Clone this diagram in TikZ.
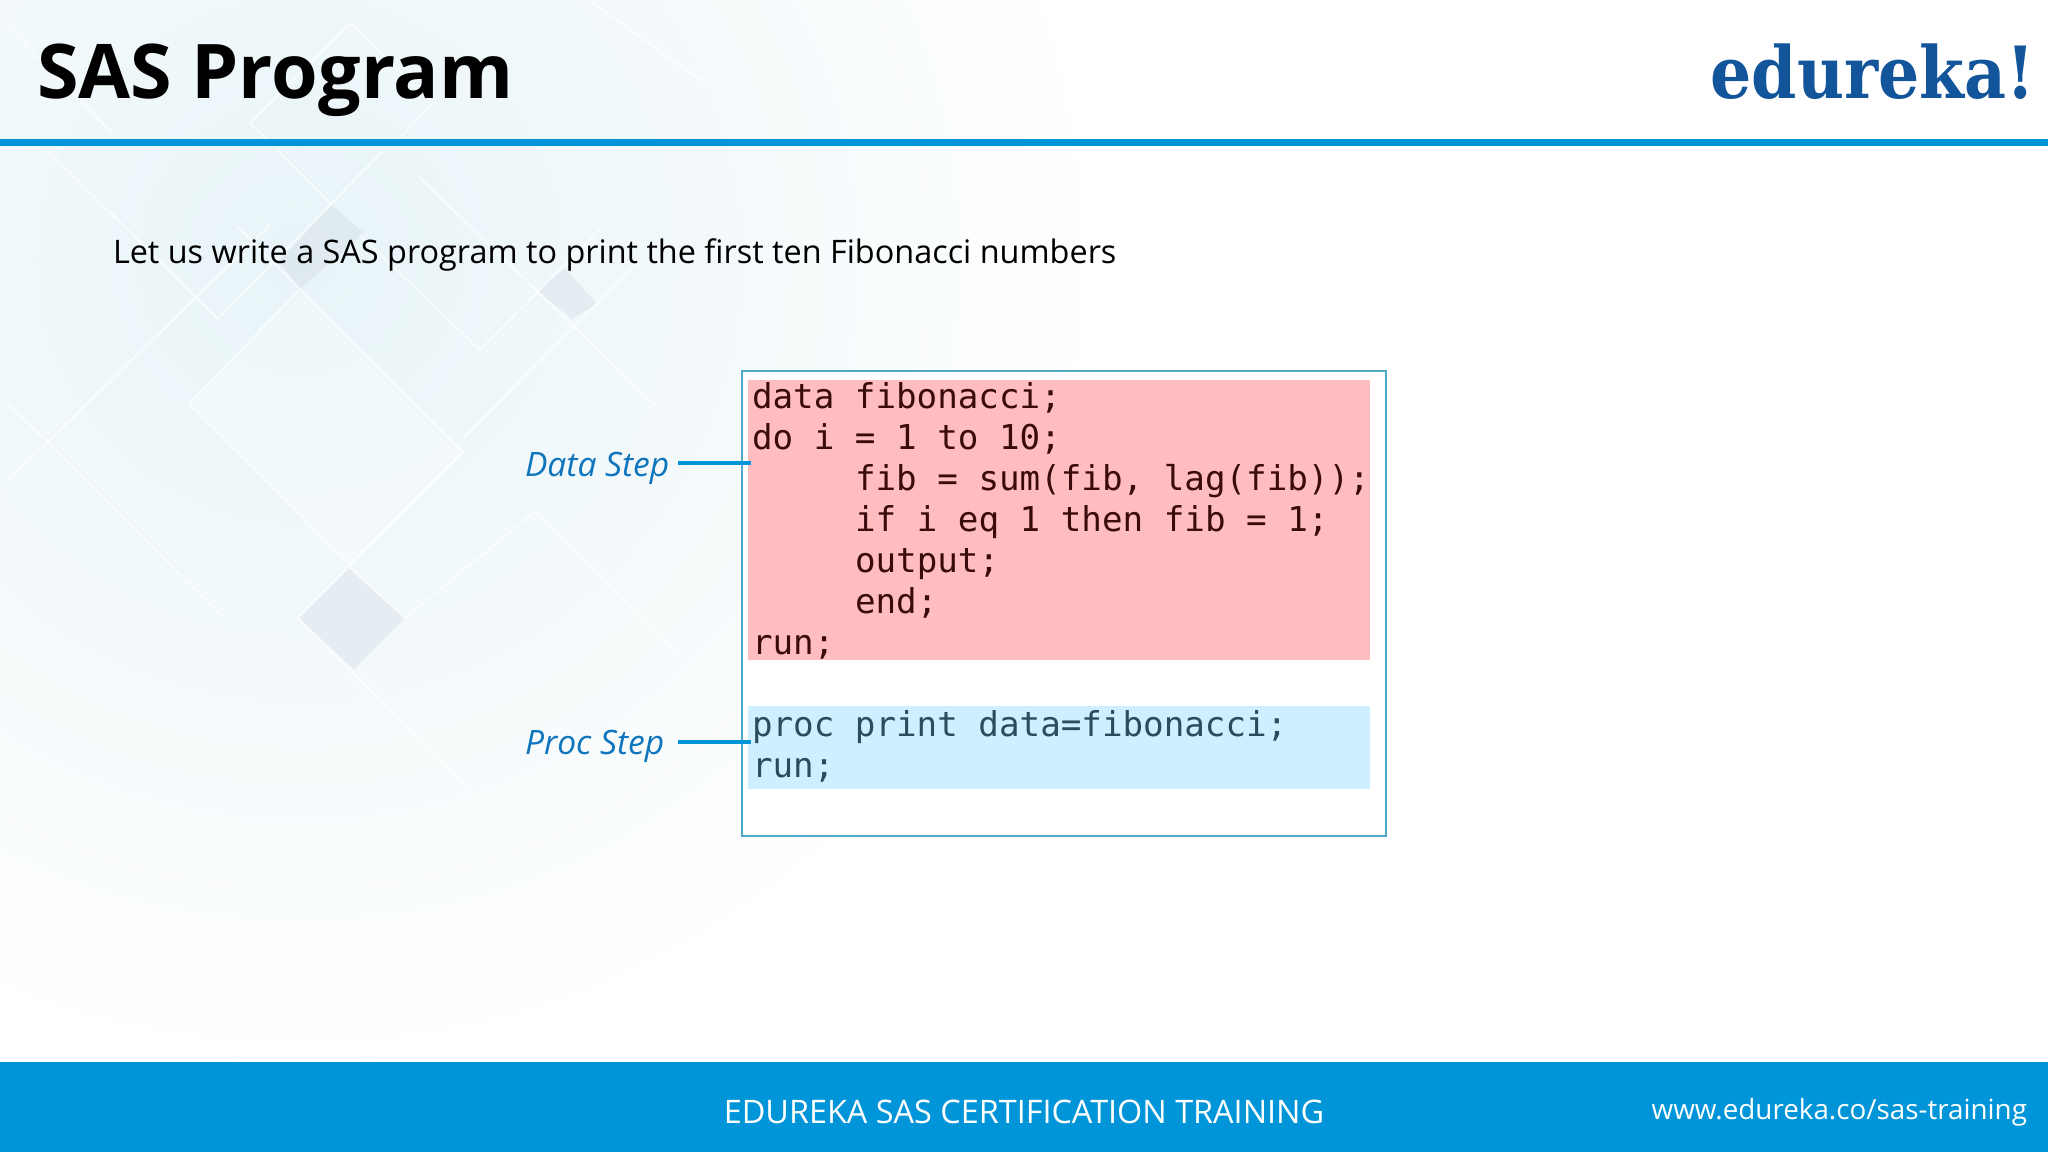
\documentclass[tikz,border=0pt]{standalone}
\usepackage{fontspec}
\setmainfont{Open Sans}
\setmonofont{DejaVu Sans Mono}
\newfontfamily\logofont{DejaVu Serif}
\usepackage{tikz}
\definecolor{barblue}{HTML}{0095D8}
\definecolor{labelblue}{HTML}{0F75BC}
\definecolor{logoblue}{HTML}{12559B}
\definecolor{washblue}{HTML}{E8F4F8}
\definecolor{greyblue}{HTML}{D3DDE6}
\definecolor{redfill}{HTML}{FFBDBF}
\definecolor{bluefill}{HTML}{CDEFFF}
\definecolor{redtext}{HTML}{3A0A0C}
\definecolor{bluetext}{HTML}{2C4B5C}
\definecolor{framecolor}{HTML}{4FA9C9}
\tikzset{
  every node/.style={inner sep=0pt, outer sep=0pt},
  codeline/.style={anchor=base west, font=\ttfamily\fontsize{17.1}{20}\selectfont},
  steplabel/.style={anchor=west, text=labelblue, font=\itshape\fontsize{16.8}{20}\selectfont},
  pointer/.style={draw=barblue, line width=2.3pt},
  sheen/.style={draw=white, line width=0.9pt, opacity=0.7},
  pane/.style={fill=white, opacity=0.25},
  patch/.style={fill=greyblue, opacity=0.4},
}
\begin{document}
\begin{tikzpicture}[x=0.5pt, y=-0.5pt]
  \useasboundingbox (0,0) rectangle (2048,1152);
  \fill[white] (0,0) rectangle (2048,1152);

  % background wash
  \begin{scope}
    \clip (0,0) rectangle (2048,1062);
    \shade[inner color=washblue, outer color=white] (300,260) circle (820);
    \fill[pane] (189,404) -- (300,289) -- (463,452) -- (349,564) -- cycle;
    \fill[patch] (349,567) -- (405,618) -- (354,669) -- (298,618) -- cycle;
    \fill[patch] (332,205) -- (364,233) -- (300,289) -- (279,261) -- cycle;
    \fill[patch] (565,268) -- (597,304) -- (572,319) -- (538,291) -- cycle;
    \draw[sheen] (189,404) -- (300,289) -- (463,452) -- (349,564) -- cycle;
    \foreach \ax/\ay/\bx/\by in {48/151/218/319, 218/319/383/151, 236/225/300/289, 276/149/332/205,
        419/177/660/410, 480/350/601/228, 480/350/360/235, 48/442/270/225, 48/442/224/618,
        298/618/463/452, 298/618/470/790, 349/567/405/618, 405/618/536/511, 536/511/680/655,
        7/403/48/442, 7/480/48/442, 464/437/640/260, 250/123/350/23, 350/23/433/103,
        250/123/270/143, 433/103/395/143, 9/27/112/133, 589/0/700/80} {
      \draw[sheen] (\ax,\ay) -- (\bx,\by);
    }
  \end{scope}

  % header and footer
  \fill[barblue] (0,139) rectangle (2048,146);
  \fill[barblue] (0,1062) rectangle (2048,1152);
  \node[anchor=base west, font=\bfseries\fontsize{37.7}{40}\selectfont] (title) at (37,98) {SAS Program};
  \node[anchor=base east, text=logoblue, font=\logofont\bfseries\fontsize{36}{40}\selectfont] (logo) at (2035,98) {\scalebox{0.9}[1]{edureka!}};
  \node[anchor=base west, font=\fontsize{16.2}{20}\selectfont] (intro) at (113,263) {Let us write a SAS program to print the first ten Fibonacci numbers};
  \node[anchor=center, text=white, font=\fontsize{16.2}{20}\selectfont] (course) at (1024,1112) {EDUREKA SAS CERTIFICATION TRAINING};
  \node[anchor=east, text=white, font=\fontsize{13.9}{18}\selectfont] (site) at (2027,1112) {www.edureka.co/sas-training};

  % code boxes
  \node[draw=framecolor, fill=white, line width=0.6pt, minimum width=322pt, minimum height=232.5pt, anchor=north west] (frame) at (742,371) {};
  \node[fill=redfill, minimum width=311pt, minimum height=140pt, anchor=north west] (datablock) at (748,380) {};
  \node[fill=bluefill, minimum width=311pt, minimum height=41.5pt, anchor=north west] (procblock) at (748,706) {};

  % code lines
  \foreach \i/\xpos/\ypos/\line in {1/752/408/{data fibonacci;}, 2/752/449/{do i = 1 to 10;}, 3/855/490/{fib = sum(fib, lag(fib));}, 4/855/531/{if i eq 1 then fib = 1;}, 5/855/572/{output;}, 6/855/613/{end;}, 7/752/654/{run;}} {
    \node[codeline, text=redtext] (code\i) at (\xpos,\ypos) {\line};
  }
  \node[codeline, text=bluetext] (proc1) at (752,736) {proc print data=fibonacci;};
  \node[codeline, text=bluetext] (proc2) at (752,777) {run;};

  % step labels
  \node[steplabel] (datastep) at (525,468) {Data Step};
  \node[steplabel] (procstep) at (525,746) {Proc Step};
  \coordinate (dataend) at (751,463);
  \coordinate (procend) at (751,742);
  \draw[pointer] (dataend -| 678,0) -- (dataend);
  \draw[pointer] (procend -| 678,0) -- (procend);
\end{tikzpicture}
\end{document}
